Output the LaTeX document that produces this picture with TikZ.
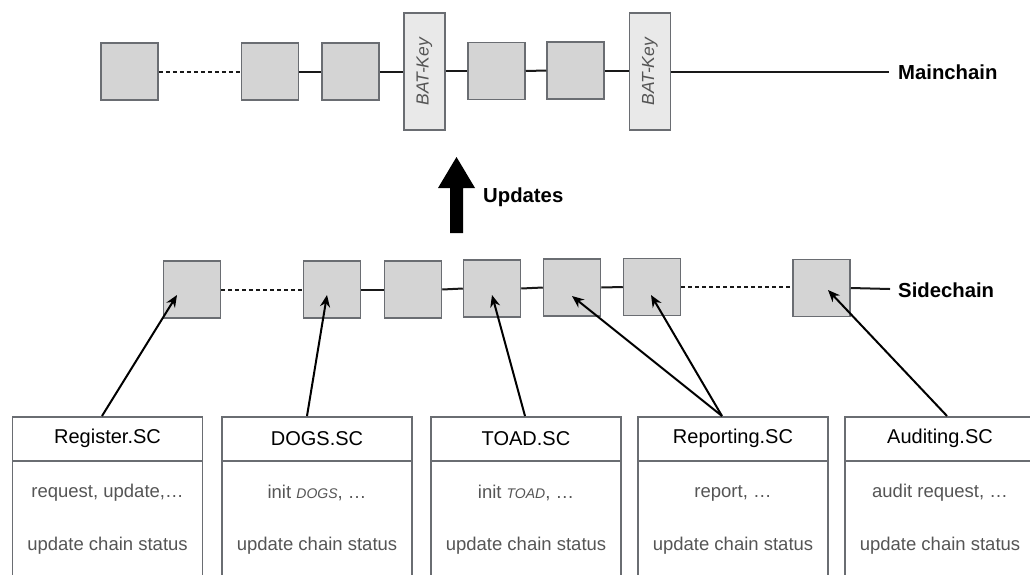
\documentclass[tikz,border=0pt]{standalone}
\usepackage{fontspec}
\setmainfont{Liberation Sans}
\usetikzlibrary{arrows.meta}
\definecolor{blk}{HTML}{D4D4D4}
\definecolor{batfill}{HTML}{E9E9E9}
\definecolor{bord}{HTML}{6A6D72}
\definecolor{bodytxt}{HTML}{555555}
\tikzset{
  blockbox/.style={draw=bord, fill=blk, line width=1.5pt, minimum width=57pt, minimum height=57pt, inner sep=0pt},
  batbox/.style={draw=bord, fill=batfill, line width=1.5pt, minimum width=41pt, minimum height=117pt, inner sep=0pt},
  chainline/.style={line width=2pt, black!90},
  chaindash/.style={line width=2pt, black!90, dash pattern=on 4pt off 3pt},
  ptr/.style={line width=2pt, -{Stealth[length=12pt,width=10pt]}},
  headbox/.style={draw=bord, line width=1.5pt, minimum width=190pt, minimum height=44pt, inner sep=0pt, font=\fontsize{20}{22}\selectfont},
  bodybox/.style={draw=bord, line width=1.5pt, minimum width=190pt, minimum height=150pt, inner sep=0pt},
  bodytext/.style={text=bodytxt, font=\fontsize{18.5}{20}\selectfont, inner sep=0pt},
  chainlabel/.style={font=\bfseries\fontsize{20.3}{22}\selectfont, anchor=west, inner sep=0pt},
  battext/.style={text=bodytxt, font=\itshape\fontsize{17.5}{19}\selectfont, rotate=90}
}
\begin{document}
\begin{tikzpicture}[x=1pt,y=-1pt]
\clip (0,0) rectangle (1030,574);
\fill[white] (0,0) rectangle (1030,574);
% Mainchain
\node[blockbox] (m1) at (129.5,71.5) {};
\node[blockbox] (m2) at (270,71.5) {};
\node[blockbox] (m3) at (350.5,71.5) {};
\node[batbox] (k1) at (424.5,71.5) {};
\node[battext] at (k1.center) {BAT-Key};
\node[blockbox] (m4) at (496.5,71) {};
\node[blockbox] (m5) at (575.5,70.5) {};
\node[batbox] (k2) at (650,71.5) {};
\node[battext] at (k2.center) {BAT-Key};
\coordinate (mend) at (889,71.5);
\node[chainlabel] (mlabel) at (898,72) {Mainchain};
\draw[chaindash] (m1.east) -- (m2.west);
\draw[chainline] (m2.east) -- (m3.west);
\draw[chainline] (m3.east) -- (k1.west |- m3.east);
\draw[chainline] (k1.east |- m4.west) -- (m4.west);
\draw[chainline] (m4.east) -- (m5.west);
\draw[chainline] (m5.east) -- (k2.west |- m5.east);
\draw[chainline] (k2.east) -- (mend);
% Updates arrow
\fill[black] (450,233) -- (463,233) -- (463,188) -- (475,188) -- (456.5,157) -- (438,188) -- (450,188) -- cycle;
\node[chainlabel] (upd) at (483,197) {Updates};
% Sidechain
\node[blockbox] (s1) at (192,289.5) {};
\node[blockbox] (s2) at (332,289.5) {};
\node[blockbox] (s3) at (413,289.5) {};
\node[blockbox] (s4) at (492,288.5) {};
\node[blockbox] (s5) at (572,287.5) {};
\node[blockbox] (s6) at (652,287) {};
\node[blockbox] (s7) at (821.5,288) {};
\coordinate (send) at (890,289);
\node[chainlabel] (slabel) at (898,290) {Sidechain};
\draw[chaindash] (s1.east) -- (s2.west);
\draw[chainline] (s2.east) -- (s3.west);
\draw[chainline] (s3.east) -- (s4.west);
\draw[chainline] (s4.east) -- (s5.west);
\draw[chainline] (s5.east) -- (s6.west);
\draw[chaindash] (s6.east) -- (s7.west |- s6.east);
\draw[chainline] (s7.east) -- (send);
% Contracts
\foreach \n/\x/\t/\a in {reg/107.5/Register.SC/{request, update,…},
                         dogs/317/DOGS.SC/{init \textit{\fontsize{14}{16}\selectfont DOGS}, …},
                         toad/526/TOAD.SC/{init \textit{\fontsize{14}{16}\selectfont TOAD}, …},
                         rep/733/Reporting.SC/{report, …},
                         aud/940/Auditing.SC/{audit request, …}}{
  \node[bodybox, anchor=north] (\n b) at (\x,459) {};
  \node[headbox, anchor=north, fill=white] (\n) at (\x,416) {\t};
  \node[bodytext] (\n t1) at (\x,493) {\a};
  \node[bodytext] (\n t2) at (\x,546) {update chain status};
}
% Pointers
\coordinate (a1) at (177,295);
\coordinate (a2) at (327,295);
\coordinate (a4) at (492,295);
\coordinate (a5) at (572,296);
\coordinate (a6) at (651,295);
\coordinate (a7) at (828,290);
\draw[ptr] ([xshift=-5.5pt]reg.north) -- (a1);
\draw[ptr] ([xshift=-10pt]dogs.north) -- (a2);
\draw[ptr] ([xshift=-1pt]toad.north) -- (a4);
\draw[ptr] ([xshift=-11pt]rep.north) -- (a5);
\draw[ptr] ([xshift=-11pt]rep.north) -- (a6);
\draw[ptr] ([xshift=7pt]aud.north) -- (a7);
\end{tikzpicture}
\end{document}
